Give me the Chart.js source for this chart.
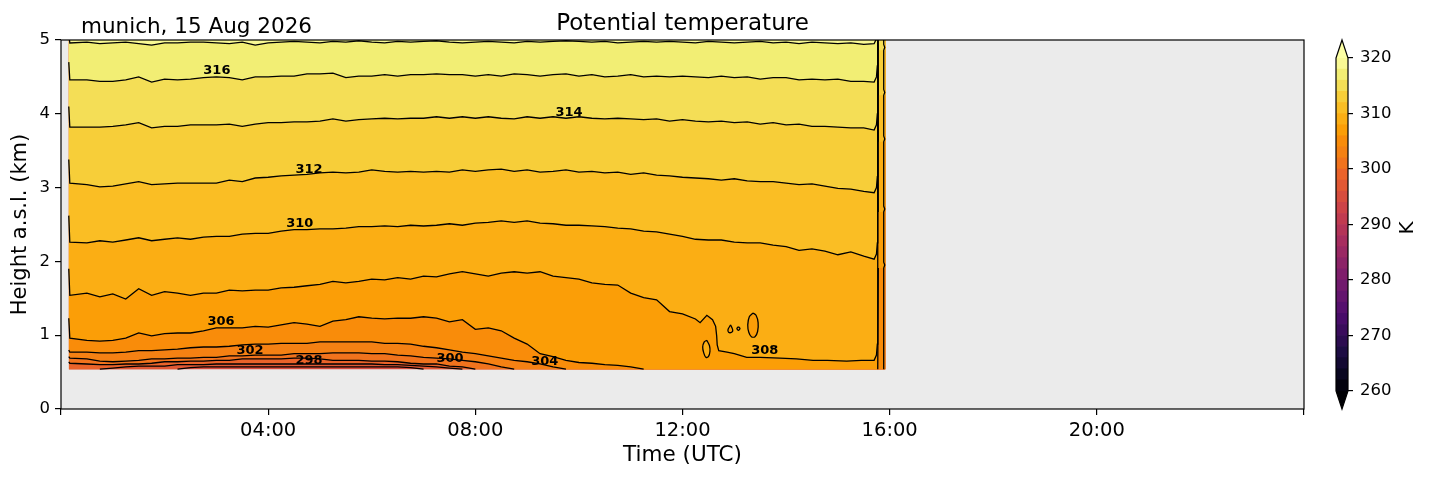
<!DOCTYPE html>
<html>
<head>
<meta charset="utf-8">
<script src="https://cdn.jsdelivr.net/npm/chart.js@4.4.1/dist/chart.umd.min.js"></script>
<style>
  html, body { margin: 0; padding: 0; background: #fff; }
  #wrap { position: relative; width: 1429px; height: 478px; }
  #main { position: absolute; left: 0; top: 0; }
  #cbar { position: absolute; left: 1310px; top: 0; }
</style>
</head>
<body>
<div id="wrap">
  <canvas id="main" width="1429" height="478"></canvas>
  <canvas id="cbar" width="119" height="478"></canvas>
</div>
<script>
// time grid of the contour lines (hours UTC)
const hours = [
  0.17, 0.5, 0.75, 1, 1.25, 1.5, 1.75, 2, 2.25, 2.5,
  2.75, 3, 3.25, 3.5, 3.75, 4, 4.25, 4.5, 4.75, 5,
  5.25, 5.5, 5.75, 6, 6.25, 6.5, 6.75, 7, 7.25, 7.5,
  7.75, 8, 8.25, 8.5, 8.75, 9, 9.25, 9.5, 9.75, 10,
  10.25, 10.5, 10.75, 11, 11.25, 11.5, 11.75, 12, 12.25, 12.5,
  12.75, 13, 13.25, 13.5, 13.75, 14, 14.25, 14.5, 14.75, 15,
  15.25, 15.5, 15.7
];

// contour heights (km), null = contour lies below the lowest gate
const h318 = [
  4.96, 4.97, 4.95, 4.96, 4.97, 4.95, 4.93, 4.96, 4.96, 4.97,
  4.97, 4.96, 4.95, 4.97, 4.93, 4.96, 4.97, 4.98, 4.97, 4.96,
  4.98, 4.97, 4.99, 4.97, 4.96, 4.98, 4.97, 4.98, 4.99, 4.97,
  4.96, 4.97, 4.98, 4.97, 4.96, 4.98, 4.97, 4.98, 4.99, 4.98,
  4.97, 4.98, 4.96, 4.97, 4.98, 4.97, 4.98, 4.97, 4.96, 4.98,
  4.97, 4.96, 4.97, 4.98, 4.96, 4.97, 4.95, 4.97, 4.96, 4.95,
  4.96, 4.94, 4.95
];
const h316 = [
  4.46, 4.46, 4.44, 4.44, 4.46, 4.50, 4.43, 4.47, 4.46, 4.47,
  4.49, 4.50, 4.49, 4.46, 4.50, 4.50, 4.51, 4.51, 4.54, 4.54,
  4.55, 4.49, 4.51, 4.51, 4.53, 4.51, 4.53, 4.53, 4.54, 4.53,
  4.53, 4.51, 4.53, 4.51, 4.54, 4.53, 4.51, 4.53, 4.54, 4.51,
  4.53, 4.50, 4.51, 4.53, 4.50, 4.51, 4.50, 4.51, 4.50, 4.49,
  4.51, 4.49, 4.50, 4.47, 4.49, 4.49, 4.46, 4.47, 4.46, 4.47,
  4.44, 4.44, 4.43
];
const h314 = [
  3.82, 3.82, 3.82, 3.83, 3.85, 3.88, 3.81, 3.83, 3.83, 3.85,
  3.85, 3.85, 3.86, 3.83, 3.86, 3.88, 3.88, 3.89, 3.89, 3.90,
  3.93, 3.90, 3.92, 3.93, 3.94, 3.93, 3.94, 3.94, 3.96, 3.94,
  3.96, 3.94, 3.96, 3.94, 3.93, 3.96, 3.94, 3.96, 3.94, 3.96,
  3.94, 3.93, 3.94, 3.93, 3.92, 3.93, 3.90, 3.92, 3.90, 3.89,
  3.90, 3.88, 3.89, 3.86, 3.88, 3.85, 3.86, 3.83, 3.83, 3.82,
  3.81, 3.81, 3.78
];
const h312 = [
  3.06, 3.04, 3.01, 3.02, 3.05, 3.08, 3.04, 3.05, 3.06, 3.06,
  3.06, 3.06, 3.10, 3.08, 3.13, 3.14, 3.16, 3.17, 3.18, 3.20,
  3.21, 3.20, 3.21, 3.24, 3.22, 3.21, 3.22, 3.21, 3.22, 3.21,
  3.24, 3.22, 3.24, 3.25, 3.22, 3.24, 3.21, 3.22, 3.24, 3.21,
  3.22, 3.20, 3.21, 3.18, 3.20, 3.17, 3.16, 3.14, 3.13, 3.12,
  3.10, 3.12, 3.09, 3.08, 3.08, 3.06, 3.04, 3.05, 3.02, 2.99,
  2.98, 2.95, 2.93
];
const h310 = [
  2.26, 2.25, 2.28, 2.26, 2.29, 2.32, 2.28, 2.30, 2.32, 2.30,
  2.33, 2.34, 2.34, 2.37, 2.38, 2.38, 2.41, 2.43, 2.43, 2.44,
  2.44, 2.45, 2.47, 2.47, 2.48, 2.47, 2.49, 2.48, 2.49, 2.51,
  2.49, 2.52, 2.53, 2.55, 2.53, 2.55, 2.52, 2.51, 2.49, 2.49,
  2.48, 2.47, 2.45, 2.44, 2.41, 2.40, 2.37, 2.34, 2.30, 2.29,
  2.29, 2.26, 2.25, 2.25, 2.22, 2.20, 2.15, 2.17, 2.14, 2.09,
  2.13, 2.07, 2.03
];
// the 308 K line has its own times (it bends down near 12:40)
const hours308 = [
  0.17, 0.5, 0.75, 1, 1.25, 1.5, 1.75, 2, 2.25, 2.5,
  2.75, 3, 3.25, 3.5, 3.75, 4, 4.25, 4.5, 4.75, 5,
  5.25, 5.5, 5.75, 6, 6.25, 6.5, 6.75, 7, 7.25, 7.5,
  7.75, 8, 8.25, 8.5, 8.75, 9, 9.25, 9.5, 9.75, 10,
  10.25, 10.5, 10.75, 11, 11.25, 11.5, 11.75, 12, 12.25, 12.34,
  12.47, 12.58, 12.64, 12.66, 12.67, 12.7, 12.86, 13, 13.24, 13.5,
  13.88, 14.2, 14.52, 14.8, 15.17, 15.45, 15.7
];
const h308 = [
  1.54, 1.57, 1.52, 1.56, 1.49, 1.63, 1.54, 1.59, 1.57, 1.54,
  1.57, 1.57, 1.61, 1.60, 1.61, 1.61, 1.64, 1.65, 1.67, 1.69,
  1.73, 1.71, 1.73, 1.76, 1.75, 1.78, 1.76, 1.80, 1.79, 1.83,
  1.86, 1.83, 1.80, 1.84, 1.86, 1.84, 1.86, 1.80, 1.78, 1.76,
  1.71, 1.69, 1.68, 1.57, 1.51, 1.48, 1.32, 1.29, 1.22, 1.17,
  1.27, 1.21, 1.12, 0.99, 0.87, 0.79, 0.77, 0.75, 0.70, 0.70,
  0.69, 0.68, 0.66, 0.66, 0.65, 0.66, 0.66
];
const h306 = [
  0.96, 0.93, 0.92, 0.93, 0.96, 1.03, 0.99, 1.02, 1.03, 1.03,
  1.06, 1.10, 1.10, 1.10, 1.12, 1.11, 1.14, 1.17, 1.15, 1.12,
  1.19, 1.21, 1.25, 1.23, 1.22, 1.23, 1.23, 1.25, 1.23, 1.18,
  1.21, 1.08, 1.10, 1.06, 0.96, 0.88, 0.75, 0.71, 0.66, 0.63,
  0.62, 0.60, 0.59, 0.57, null, null, null, null, null, null,
  null, null, null, null, null, null, null, null, null, null,
  null, null, null
];
const h304 = [
  0.77, 0.77, 0.76, 0.76, 0.77, 0.79, 0.79, 0.80, 0.81, 0.83,
  0.84, 0.84, 0.85, 0.87, 0.88, 0.88, 0.89, 0.89, 0.89, 0.91,
  0.91, 0.91, 0.91, 0.91, 0.89, 0.89, 0.88, 0.85, 0.83, 0.80,
  0.77, 0.75, 0.72, 0.69, 0.66, 0.64, 0.61, 0.57, null, null,
  null, null, null, null, null, null, null, null, null, null,
  null, null, null, null, null, null, null, null, null, null,
  null, null, null
];
const h302 = [
  0.69, 0.68, 0.65, 0.64, 0.65, 0.66, 0.68, 0.68, 0.69, 0.69,
  0.70, 0.70, 0.72, 0.72, 0.73, 0.73, 0.73, 0.75, 0.75, 0.75,
  0.76, 0.76, 0.76, 0.75, 0.75, 0.73, 0.72, 0.70, 0.69, 0.68,
  0.66, 0.64, 0.61, 0.57, null, null, null, null, null, null,
  null, null, null, null, null, null, null, null, null, null,
  null, null, null, null, null, null, null, null, null, null,
  null, null, null
];
const h300 = [
  0.62, 0.61, 0.60, 0.60, 0.61, 0.61, 0.62, 0.64, 0.64, 0.65,
  0.65, 0.66, 0.66, 0.68, 0.68, 0.68, 0.68, 0.69, 0.69, 0.68,
  0.66, 0.66, 0.66, 0.65, 0.65, 0.64, 0.62, 0.61, 0.61, 0.58,
  0.57, null, null, null, null, null, null, null, null, null,
  null, null, null, null, null, null, null, null, null, null,
  null, null, null, null, null, null, null, null, null, null,
  null, null, null
];
const h298 = [
  null, null, null, 0.555, 0.57, 0.58, 0.58, 0.58, 0.60, 0.60,
  0.60, 0.61, 0.61, 0.61, 0.61, 0.61, 0.61, 0.61, 0.61, 0.61,
  0.61, 0.61, 0.61, 0.61, 0.60, 0.60, 0.59, 0.58, 0.57, 0.555,
  null, null, null, null, null, null, null, null, null, null,
  null, null, null, null, null, null, null, null, null, null,
  null, null, null, null, null, null, null, null, null, null,
  null, null, null
];
const h296 = [
  null, null, null, null, null, null, null, null, null, 0.56,
  0.57, 0.57, 0.57, 0.57, 0.57, 0.57, 0.57, 0.57, 0.57, 0.57,
  0.57, 0.57, 0.57, 0.57, 0.57, 0.57, 0.56, null, null, null,
  null, null, null, null, null, null, null, null, null, null,
  null, null, null, null, null, null, null, null, null, null,
  null, null, null, null, null, null, null, null, null, null,
  null, null, null
];

const levels = [318, 316, 314, 312, 310, 308, 306, 304, 302, 300, 298, 296];
const levelHeights = [h318, h316, h314, h312, h310, h308, h306, h304, h302, h300, h298, h296];
// first profile is colder aloft: contours jump up at the left edge
const leftSpikeKm = [5.1, 4.70, 4.10, 3.38, 2.62, 1.90, 1.23, 0.80, 0.71, 0.64, null, null];
// contour heights in the last profile (null = below lowest gate)
const lastProfileKm = [5.0, 5.0, 4.86, 4.25, 3.62, 2.67, 1.91, null, null, null, null, null];

// small closed 308 K contours near 13 UTC
const isleA_t = [13.36, 13.42, 13.46, 13.45, 13.40, 13.33, 13.28, 13.26, 13.29, 13.36];
const isleA_h = [1.30, 1.27, 1.17, 1.05, 0.98, 0.98, 1.04, 1.14, 1.25, 1.30];
const isleB_t = [12.93, 12.97, 12.95, 12.89, 12.88, 12.93];
const isleB_h = [1.14, 1.07, 1.04, 1.04, 1.08, 1.14];
const isleC_t = [13.08, 13.11, 13.08, 13.05, 13.08];
const isleC_h = [1.115, 1.09, 1.065, 1.09, 1.115];
const isleD_t = [12.47, 12.52, 12.53, 12.50, 12.45, 12.41, 12.39, 12.42, 12.47];
const isleD_h = [0.93, 0.86, 0.78, 0.71, 0.70, 0.76, 0.84, 0.91, 0.93];

const labelText = ['316', '314', '312', '310', '306', '302', '298', '300', '304', '308'];
const labelHours = [3.01, 9.81, 4.79, 4.61, 3.09, 3.65, 4.79, 7.51, 9.34, 13.59];
const labelKm = [4.58, 4.01, 3.24, 2.51, 1.19, 0.79, 0.66, 0.68, 0.64, 0.79];

const xTickHours = [0, 4, 8, 12, 16, 20, 24];
const xTickLabels = ['', '04:00', '08:00', '12:00', '16:00', '20:00', ''];
const cbarLevels = [260, 262, 264, 266, 268, 270, 272, 274, 276, 278, 280, 282, 284, 286, 288, 290,
  292, 294, 296, 298, 300, 302, 304, 306, 308, 310, 312, 314, 316, 318, 320];

const dataBottomKm = 0.54;
const dataTopKm = 5.0;
const firstHour = 0.15;
const edgeHour = 15.77;
const lastHour = 15.92;
const stripEdgeHour = 15.885;

Chart.defaults.font.family = "'DejaVu Sans', sans-serif";
Chart.defaults.color = '#000';

// inferno colormap
const infernoStops = [
  [0, 0, 0, 4], [0.05, 9, 6, 32], [0.111, 27, 12, 65], [0.222, 74, 12, 107], [0.25, 86, 16, 110],
  [0.333, 120, 28, 109], [0.444, 165, 44, 96], [0.5, 187, 55, 84], [0.556, 207, 68, 70],
  [0.632, 230, 93, 47], [0.667, 237, 105, 37], [0.684, 241, 115, 29], [0.737, 248, 137, 12],
  [0.75, 249, 140, 10], [0.778, 251, 155, 6], [0.789, 252, 161, 8], [0.842, 251, 186, 31],
  [0.889, 247, 209, 61], [0.947, 241, 237, 113], [1, 252, 255, 164]
];
function inferno(t) {
  t = Math.max(0, Math.min(1, t));
  for (let i = 1; i < infernoStops.length; i++) {
    const b = infernoStops[i];
    if (t <= b[0]) {
      const a = infernoStops[i - 1];
      const f = (t - a[0]) / (b[0] - a[0]);
      const c = [1, 2, 3].map(k => Math.round(a[k] + (b[k] - a[k]) * f));
      return `rgb(${c[0]},${c[1]},${c[2]})`;
    }
  }
  return 'rgb(252,255,164)';
}
// colour of the band that starts at a level (band is 2 K wide)
function bandColor(level) {
  return inferno((level + 1 - 260) / 60);
}

const lineWidth = 1.3;
const noColor = 'rgba(0,0,0,0)';
const strokeSets = [];
const fillSets = [];

// islands: fill and outline in one go, drawn above the bands
[[isleA_t, isleA_h, 306], [isleB_t, isleB_h, 306], [isleC_t, isleC_h, 306], [isleD_t, isleD_h, 308]]
  .forEach(([t, h, lev]) => {
    fillSets.push({
      data: t.map((x, i) => ({x: x, y: h[i]})),
      fill: 'shape',
      backgroundColor: bandColor(lev),
      borderColor: '#000',
      borderWidth: lineWidth,
      tension: 0.3
    });
  });

// second edge line made by the last profile
const stripEdge = [{x: stripEdgeHour, y: dataBottomKm}];
lastProfileKm.filter(v => v !== null && v < dataTopKm).sort((a, b) => a - b).forEach(v => {
  stripEdge.push({x: stripEdgeHour, y: v}, {x: stripEdgeHour + 0.02, y: v + 0.04}, {x: stripEdgeHour, y: v + 0.08});
});
stripEdge.push({x: stripEdgeHour, y: dataTopKm});
strokeSets.push({data: stripEdge, fill: false, borderColor: '#000', borderWidth: lineWidth});

levels.forEach((lev, k) => {
  const times = lev === 308 ? hours308 : hours;
  const hs = levelHeights[k];
  const pts = [];
  const h0 = hs[0] === null ? dataBottomKm : hs[0];
  pts.push({x: firstHour, y: leftSpikeKm[k] === null ? h0 : leftSpikeKm[k]});
  times.forEach((t, i) => pts.push({x: t, y: hs[i] === null ? dataBottomKm : hs[i]}));
  const last = pts[pts.length - 1].y;
  if (last > dataBottomKm) {
    // bend up into the common vertical edge
    pts.push({x: 15.745, y: last + 0.07}, {x: 15.762, y: Math.min(last + 0.22, dataTopKm)}, {x: edgeHour, y: dataTopKm});
  } else {
    pts.push({x: edgeHour, y: dataBottomKm});
  }
  const s = lastProfileKm[k] === null ? dataBottomKm : lastProfileKm[k];
  pts.push({x: edgeHour + 0.01, y: s}, {x: lastHour, y: s});

  // filled band above this contour
  fillSets.push({
    data: pts,
    fill: 'end',
    backgroundColor: bandColor(lev),
    borderColor: noColor,
    borderWidth: 0
  });

  // contour line: hidden where it runs along the lowest gate, and inside the last profile
  const above = p => p.y > dataBottomKm;
  const line = pts.slice(0, -1).map((p, i, arr) => {
    const show = above(p) || (i > 0 && above(arr[i - 1])) || (i < arr.length - 1 && above(arr[i + 1]));
    return {x: p.x, y: show ? p.y : null};
  });
  strokeSets.push({data: line, fill: false, spanGaps: false, borderColor: '#000', borderWidth: lineWidth});
});

// lowest band under every line
fillSets.push({
  data: [{x: firstHour, y: dataBottomKm}, {x: lastHour, y: dataBottomKm}],
  fill: 'end',
  backgroundColor: bandColor(294),
  borderColor: noColor,
  borderWidth: 0
});

const panelPlugin = {
  id: 'panel',
  beforeDraw(chart) {
    const {ctx, chartArea: a} = chart;
    ctx.save();
    ctx.fillStyle = '#ebebeb';
    ctx.fillRect(a.left, a.top, a.right - a.left, a.bottom - a.top);
    ctx.restore();
  },
  afterDatasetsDraw(chart) {
    const {ctx, scales} = chart;
    ctx.save();
    ctx.font = "bold 13px 'DejaVu Sans'";
    ctx.fillStyle = '#000';
    ctx.textAlign = 'center';
    ctx.textBaseline = 'middle';
    labelText.forEach((txt, i) => {
      ctx.fillText(txt, scales.x.getPixelForValue(labelHours[i]), scales.y.getPixelForValue(labelKm[i]));
    });
    ctx.restore();
  },
  afterDraw(chart) {
    const {ctx, chartArea: a} = chart;
    ctx.save();
    ctx.strokeStyle = '#000';
    ctx.lineWidth = 1.2;
    ctx.strokeRect(a.left, a.top, a.right - a.left, a.bottom - a.top);
    ctx.fillStyle = '#000';
    ctx.textBaseline = 'alphabetic';
    ctx.font = "23px 'DejaVu Sans'";
    ctx.textAlign = 'center';
    ctx.fillText('Potential temperature', (a.left + a.right) / 2, 30);
    ctx.font = "21.5px 'DejaVu Sans'";
    ctx.textAlign = 'left';
    ctx.fillText('munich, 15 Aug 2026', 81, 33);
    ctx.restore();
  }
};

new Chart(document.getElementById('main'), {
  type: 'line',
  data: {datasets: strokeSets.concat(fillSets)},
  options: {
    responsive: false,
    animation: false,
    events: [],
    layout: {padding: {left: 0, right: 125, top: 40, bottom: 0}},
    elements: {point: {radius: 0}, line: {tension: 0}},
    plugins: {
      legend: {display: false},
      tooltip: {enabled: false},
      filler: {drawTime: 'beforeDatasetsDraw', propagate: false}
    },
    scales: {
      x: {
        type: 'linear', min: 0, max: 24,
        afterFit: s => { s.height = 69; },
        afterBuildTicks: s => { s.ticks = xTickHours.map(v => ({value: v})); },
        ticks: {
          autoSkip: false, maxRotation: 0, padding: 4,
          font: {size: 19.5}, color: '#000',
          callback: (v, i) => xTickLabels[i]
        },
        grid: {drawOnChartArea: false, tickLength: 6, color: '#000', lineWidth: 1.2},
        border: {display: false},
        title: {display: true, text: 'Time (UTC)', font: {size: 21.5}, color: '#000', padding: {top: 0, bottom: 10}}
      },
      y: {
        min: 0, max: 5,
        afterFit: s => { s.width = 61; },
        ticks: {stepSize: 1, font: {size: 16.5}, color: '#000', padding: 5},
        grid: {drawOnChartArea: false, tickLength: 6, color: '#000', lineWidth: 1.2},
        border: {display: false},
        title: {display: true, text: 'Height a.s.l. (km)', font: {size: 21}, color: '#000', padding: {top: 8, bottom: 0}}
      }
    }
  },
  plugins: [panelPlugin]
});

// colour bar
const cbarPlugin = {
  id: 'cbarExtras',
  afterDraw(chart) {
    const {ctx, chartArea: a, scales} = chart;
    const yTop = scales.y.getPixelForValue(320);
    const yBot = scales.y.getPixelForValue(260);
    const mid = (a.left + a.right) / 2;
    const ext = 18;
    ctx.save();
    ctx.fillStyle = inferno(1);
    ctx.beginPath();
    ctx.moveTo(a.left, yTop); ctx.lineTo(mid, yTop - ext); ctx.lineTo(a.right, yTop); ctx.closePath();
    ctx.fill();
    ctx.fillStyle = inferno(0);
    ctx.beginPath();
    ctx.moveTo(a.left, yBot); ctx.lineTo(mid, yBot + ext); ctx.lineTo(a.right, yBot); ctx.closePath();
    ctx.fill();
    ctx.strokeStyle = '#000';
    ctx.lineWidth = 1.2;
    ctx.beginPath();
    ctx.moveTo(a.left, yTop); ctx.lineTo(mid, yTop - ext); ctx.lineTo(a.right, yTop);
    ctx.lineTo(a.right, yBot); ctx.lineTo(mid, yBot + ext); ctx.lineTo(a.left, yBot);
    ctx.closePath();
    ctx.stroke();
    ctx.translate(98, 228);
    ctx.rotate(-Math.PI / 2);
    ctx.font = "20px 'DejaVu Sans'";
    ctx.fillStyle = '#000';
    ctx.textAlign = 'center';
    ctx.textBaseline = 'middle';
    ctx.fillText('K', 0, 0);
    ctx.restore();
  }
};

new Chart(document.getElementById('cbar'), {
  type: 'bar',
  data: {
    labels: ['theta'],
    datasets: cbarLevels.slice(0, -1).map((lo, i) => ({
      data: [[lo, cbarLevels[i + 1]]],
      backgroundColor: bandColor(lo),
      borderWidth: 0,
      grouped: false,
      barPercentage: 1,
      categoryPercentage: 1
    }))
  },
  options: {
    responsive: false,
    animation: false,
    events: [],
    layout: {padding: {left: 26, right: 0, top: 58, bottom: 87}},
    plugins: {legend: {display: false}, tooltip: {enabled: false}},
    scales: {
      x: {display: false},
      y: {
        position: 'right', min: 260, max: 320,
        afterFit: s => { s.width = 81; },
        ticks: {stepSize: 10, font: {size: 16.5}, color: '#000', padding: 7},
        grid: {drawOnChartArea: false, tickLength: 5, color: '#000', lineWidth: 1.2},
        border: {display: false}
      }
    }
  },
  plugins: [cbarPlugin]
});
</script>
</body>
</html>
